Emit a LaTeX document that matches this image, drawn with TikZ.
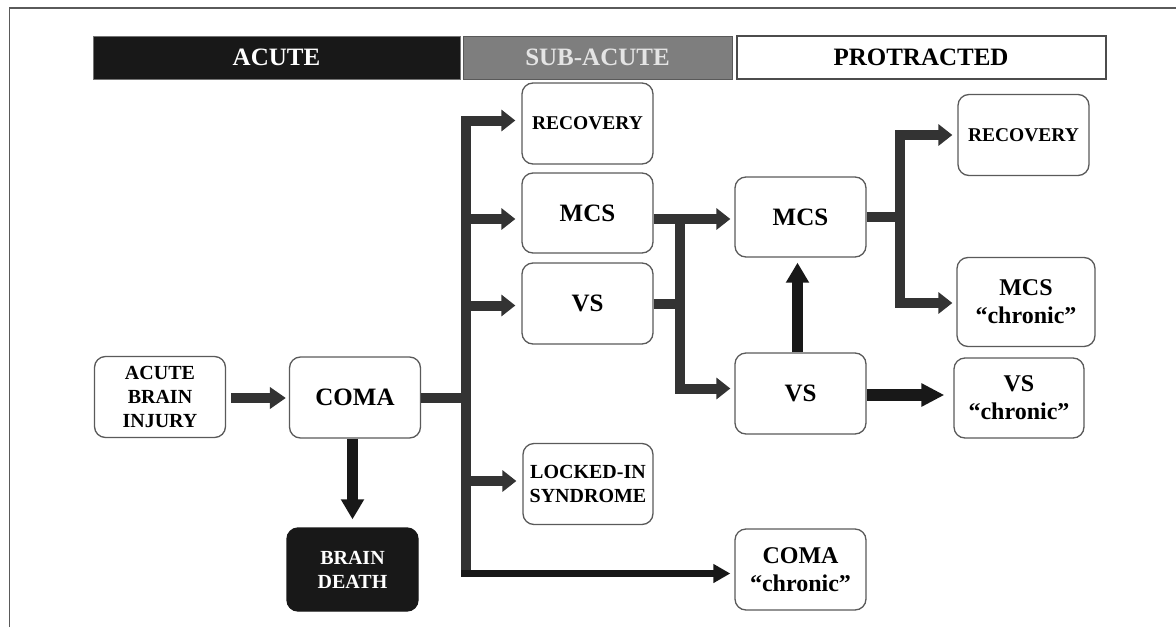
\documentclass[tikz,border=0pt]{standalone}
\usepackage{fontspec}
\setmainfont{Liberation Serif}
\usetikzlibrary{arrows.meta,calc}
\definecolor{conn}{HTML}{333333}
\definecolor{connk}{HTML}{181818}
\definecolor{boxline}{HTML}{5A5A5A}
\definecolor{subgray}{HTML}{7E7E7E}
\definecolor{subtext}{HTML}{E4E4E4}
\tikzset{
  box/.style={draw=boxline, line width=1.3pt, rounded corners=11pt, fill=white,
    minimum width=131pt, minimum height=81pt, inner sep=0pt, align=center,
    font=\bfseries\fontsize{25}{28}\selectfont},
  smalltxt/.style={font=\bfseries\fontsize{20}{24}\selectfont},
  rectxt/.style={font=\bfseries\fontsize{19.5}{23}\selectfont},
  chrontxt/.style={font=\bfseries\fontsize{24}{28}\selectfont},
  hdr/.style={minimum height=43pt, inner sep=0pt, font=\bfseries\fontsize{25}{28}\selectfont},
  cn/.style={draw=conn, line width=10pt, line join=miter},
  cnk/.style={draw=connk, line width=11pt, line join=miter},
  tipA/.style={-{Triangle[length=16pt,width=21pt]}},
  tipB/.style={-{Triangle[length=14pt,width=21pt]}},
  tipC/.style={-{Triangle[length=17pt,width=18pt]}},
  tipD/.style={-{Triangle[length=20pt,width=22pt]}},
  tipE/.style={-{Triangle[length=23pt,width=22pt]}}
}
\begin{document}
\begin{tikzpicture}[x=1pt,y=-1pt]
\useasboundingbox (0,0) rectangle (1176,627);
% outer frame (top and left edges)
\draw[draw=boxline, line width=1.5pt] (9.5,627) -- (9.5,8) -- (1176,8);

% header bars
\node[hdr, fill=connk, draw=black!55, line width=0.8pt, minimum width=367pt, text=white] (hA) at (276.5,57.5) {ACUTE};
\node[hdr, fill=subgray, draw=black!65, line width=0.8pt, minimum width=269pt, text=subtext] (hS) at (597.5,57.5) {SUB-ACUTE};
\node[hdr, fill=white, draw=black!70, line width=2pt, minimum width=369pt] (hP) at (921,57.5) {PROTRACTED};

% nodes
\node[box, smalltxt] (abi) at (160,397) {ACUTE\\BRAIN\\INJURY};
\node[box] (coma) at (355,397.5) {COMA};
\node[box, smalltxt, fill=connk, draw=connk, text=white, minimum height=83pt] (bd) at (352.5,569.5) {BRAIN\\DEATH};
\node[box, rectxt] (rec1) at (587.5,123.5) {RECOVERY};
\node[box, minimum height=80pt] (mcs1) at (587.5,213) {MCS};
\node[box] (vs1) at (587.5,303.5) {VS};
\node[box, smalltxt, minimum width=130pt] (lis) at (588,484) {LOCKED-IN\\SYNDROME};
\node[box, minimum height=80pt] (mcs2) at (800.5,217) {MCS};
\node[box] (vs2) at (800.5,393.5) {VS};
\node[box, chrontxt] (coma2) at (800.5,569.5) {COMA\\“chronic”};
\node[box, rectxt] (rec2) at (1023.5,135) {RECOVERY};
\node[box, chrontxt, minimum width=138pt, minimum height=89pt] (mcsc) at (1026,302) {MCS\\“chronic”};
\node[box, chrontxt, minimum width=130pt, minimum height=80pt] (vsc) at (1019,398) {VS\\“chronic”};

% junction points
\coordinate (jc) at (466,398);
\coordinate (jbe) at (466,577);
\coordinate (jb) at (461,573.5);
\coordinate (m1o) at ($(mcs1.east)+(0,6)$);
\coordinate (jv) at (680,219);
\coordinate (jr) at (900,219);

% acute brain injury -> coma
\draw[cn, tipA] ($(abi.east)+(5,1)$) -- ($(coma.west |- abi.east)+(-3,1)$);

% coma -> sub-acute trunk
\draw[cn] (coma.east) -- (coma.east -| jc);
\draw[cn] (jc) -- (jbe);
\draw[cn, tipB] (jc) |- ($(rec1.west)+(-6,-3)$);
\draw[cn, tipB] (jc) |- ($(mcs1.west)+(-6,6)$);
\draw[cn, tipB] (jc) |- ($(vs1.west)+(-6,2)$);
\draw[cn, tipB] (jc) |- ($(lis.west)+(-6,-3)$);
\draw[draw=connk, line width=7pt, tipC] (jb) -- ($(coma2.west |- jb)+(-4,0)$);

% coma -> brain death
\draw[cnk, tipD] (bd.north |- coma.south) -- ($(bd.north)+(0,-8)$);

% sub-acute -> protracted
\draw[cn, tipB] (m1o) -- ($(m1o -| mcs2.west)+(-4,0)$);
\draw[cn, tipB] (jv) |- ($(vs2.west)+(-4,-5)$);
\draw[cn] (vs1.east) -- (vs1.east -| jv);

% vs -> mcs (protracted)
\draw[cnk, tipD] ($(vs2.north)+(-3,0)$) -- ($(mcs2.south)+(-3,5)$);

% mcs (protracted) -> recovery / mcs chronic
\draw[cn] (mcs2.east) -- (mcs2.east -| jr);
\draw[cn, tipB] (jr) |- ($(rec2.west)+(-5,0)$);
\draw[cn, tipB] (jr) |- ($(mcsc.west)+(-4,1)$);

% vs -> vs chronic
\draw[draw=connk, line width=12pt, tipE] ($(vs2.east)+(0,1.5)$) -- ($(vs2.east -| vsc.west)+(-9,1.5)$);
\end{tikzpicture}
\end{document}
